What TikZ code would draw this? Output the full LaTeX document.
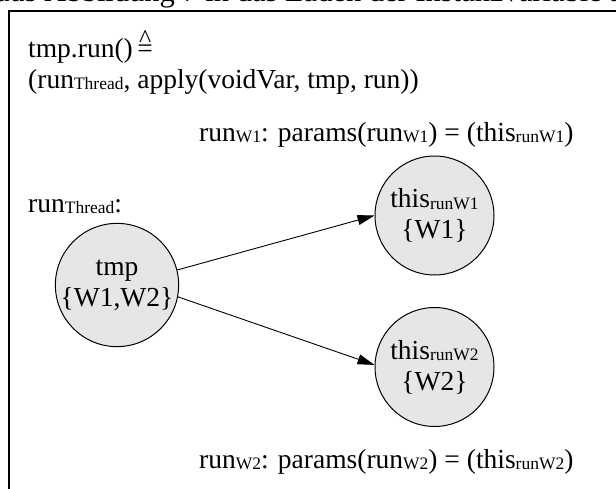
\documentclass[tikz,border=0pt]{standalone}
\usepackage{fontspec}
\setmainfont{Liberation Serif}
\usetikzlibrary{arrows.meta}
\definecolor{nodefill}{HTML}{E6E6E6}
% small index text set almost on the baseline
\newcommand\lowtext[1]{\raisebox{-1.5pt}{\fontsize{17.5}{17.5}\selectfont #1}}
% "corresponds to" sign: a circumflex above an equals sign
\newcommand\corresp{\ooalign{=\cr\hidewidth\raisebox{10pt}{\fontsize{26}{26}\selectfont\textasciicircum}\hidewidth\cr}}
\begin{document}
\begin{tikzpicture}[x=1pt,y=-1pt,
  every node/.style={font=\fontsize{27.5}{31}\selectfont, inner sep=0pt},
  lbl/.style={anchor=base west},
  obj/.style={circle, draw, line width=1pt, fill=nodefill, minimum size=119pt, align=center},
  link/.style={line width=0.9pt, -{Triangle[length=17pt,width=10pt]}}]
\useasboundingbox (0,0) rectangle (616,488);
\clip (0,0) rectangle (616,488);

% running text of the page above the figure
\node[lbl, font=\fontsize{30.5}{34}\selectfont] (caption) at (-4,1) {aus Abbildung 7 in das Laden der Instanzvariable an};

% figure frame
\draw[line width=2.2pt] (660,11) -- (9,11) -- (9,520);

% definitions
\node[lbl] (def1) at (28,57) {tmp.run()\,\corresp};
\node[lbl] (def2) at (28,88) {(run\lowtext{Thread}, apply(voidVar, tmp, run))};
\node[lbl] (par1) at (199,141) {run\lowtext{W1}: params(run\lowtext{W1}) = (this\lowtext{runW1})};
\node[lbl] (thr)  at (28,212) {run\lowtext{Thread}:};
\node[lbl] (par2) at (199,468) {run\lowtext{W2}: params(run\lowtext{W2}) = (this\lowtext{runW2})};

% objects
\node[obj] (tmp) at (117,285) {tmp\\\{W1,W2\}};
\node[obj] (w1)  at (434.5,215.5) {this\lowtext{runW1}\\\{W1\}};
\node[obj] (w2)  at (434.5,367) {this\lowtext{runW2}\\\{W2\}};

% references
\draw[link] (tmp.14) -- (w1.180);
\draw[link] (tmp.-11) -- (w2.178);
\end{tikzpicture}
\end{document}
